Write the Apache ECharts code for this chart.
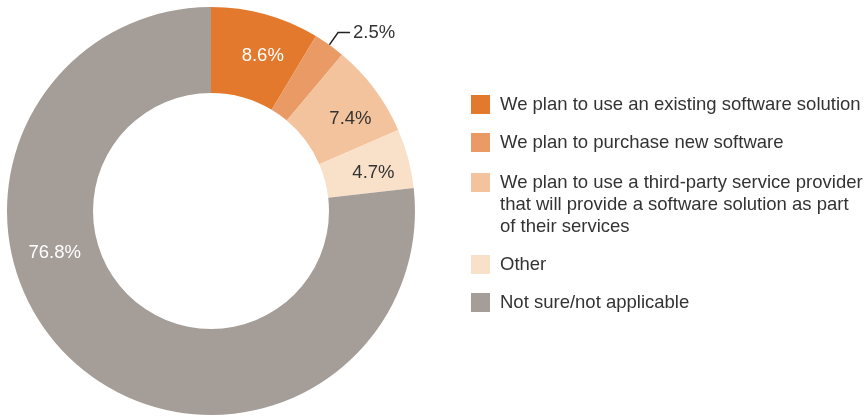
<!DOCTYPE html>
<html>
<head>
<meta charset="utf-8">
<script src="https://cdn.jsdelivr.net/npm/echarts@6/dist/echarts.min.js"></script>
<style>
  html, body { margin: 0; padding: 0; background: #fff; }
  #chart { width: 864px; height: 419px; }
</style>
</head>
<body>
<div id="chart"></div>
<script>
// Survey answers and their shares (percent)
const categories = [
  'We plan to use an existing software solution',
  'We plan to purchase new software',
  'We plan to use a third-party service provider\nthat will provide a software solution as part\nof their services',
  'Other',
  'Not sure/not applicable'
];
const shares = [8.6, 2.5, 7.4, 4.7, 76.8];
const sliceColors = ['#E2792D', '#EA9B65', '#F2C39C', '#F9E0C9', '#A49D98'];
const labelColors = ['#ffffff', '#333333', '#333333', '#333333', '#ffffff'];

const FONT = 'Liberation Sans, Arial, Helvetica, sans-serif';

// nudges for the in-ring labels (pixels)
const labelNudge = [[8, 3], [0, 0], [8, 6], [4, 4], [-47, -80]];

const chart = echarts.init(document.getElementById('chart'), null, { renderer: 'canvas' });

const pieData = categories.map((name, i) => ({
  name,
  value: shares[i],
  itemStyle: { color: sliceColors[i] },
  label: i === 1
    ? { position: 'outside', color: '#333333' }
    : { position: 'inside', color: labelColors[i] },
  labelLine: { show: i === 1 }
}));

// legend rows: icon + (possibly multi-line) text, icon aligned with first line
const legendTop = [95, 133, 173, 255, 293];
const legendGraphics = [];
categories.forEach((name, i) => {
  legendGraphics.push({
    type: 'rect',
    left: 471, top: legendTop[i],
    shape: { width: 19, height: 19 },
    style: { fill: sliceColors[i] }
  });
  legendGraphics.push({
    type: 'text',
    left: 500, top: legendTop[i] - 1.5,
    style: {
      text: name,
      fill: '#333333',
      font: '18.5px ' + FONT,
      lineHeight: 22
    }
  });
});

chart.setOption({
  animation: false,
  backgroundColor: '#ffffff',
  textStyle: { fontFamily: FONT },
  series: [{
    type: 'pie',
    center: [211, 211],
    radius: [118, 204],
    startAngle: 90,
    clockwise: true,
    avoidLabelOverlap: false,
    label: {
      show: true,
      formatter: p => p.value.toFixed(1) + '%',
      fontSize: 18.5,
      fontFamily: FONT,
      distanceToLabelLine: 3
    },
    labelLine: {
      show: false,
      length: 15,
      length2: 12,
      lineStyle: { color: '#222222', width: 1.5 }
    },
    labelLayout: params => {
      const n = labelNudge[params.dataIndex];
      return { dx: n[0], dy: n[1] };
    },
    emphasis: { disabled: true },
    data: pieData
  }],
  graphic: legendGraphics
});
</script>
</body>
</html>
